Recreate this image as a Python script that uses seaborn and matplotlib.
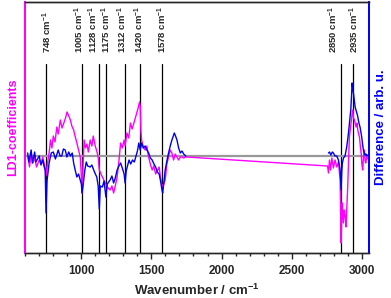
import matplotlib
matplotlib.use("Agg")
import matplotlib.pyplot as plt
import seaborn as sns
import pandas as pd
from matplotlib.ticker import MultipleLocator

# LD1 coefficients (magenta); straight bridge across the silent region
ld1_wn = [620, 630, 642, 655, 667, 680, 700, 712, 725, 732, 740, 748, 758, 770,
          780, 790, 800, 812, 825, 835, 850, 862, 875, 887, 898, 910, 922, 932,
          945, 955, 968, 980, 992, 1000, 1005, 1012, 1020, 1030, 1040, 1050,
          1063, 1075, 1085, 1099, 1110, 1120, 1128, 1140, 1160, 1175, 1185,
          1205, 1218, 1230, 1242, 1255, 1268, 1280, 1292, 1305, 1312, 1325,
          1338, 1350, 1362, 1375, 1385, 1395, 1405, 1415, 1420, 1425, 1430,
          1440, 1455, 1467, 1480, 1492, 1505, 1517, 1530, 1545, 1555, 1565,
          1578, 1588, 1598, 1610, 1622, 1634, 1646, 1658, 1670, 1682, 1694,
          1706, 1718, 1730, 1742, 1750,
          2756, 2763, 2770, 2778, 2787, 2798, 2810, 2822, 2834, 2846, 2853,
          2858, 2862, 2869, 2876, 2882, 2888, 2894, 2900, 2906, 2912, 2918,
          2924, 2930, 2936, 2942, 2948, 2954, 2960, 2966, 2972, 2978, 2984,
          2990, 2996, 3001, 3007, 3013, 3019, 3024, 3029, 3036, 3045]
ld1 = [-1, -11, 3, -7, -1, -11, -4, -8, -1, -6, -11, -20, -8, 3,
       16, 8, 20, 14, 29, 22, 36, 28, 33, 38, 44, 40, 36, 30,
       26, 20, 13, 6, -1, -20, -37, -10, 16, 8, 12, 4,
       16, 10, 20, 10, 5, -1, -14, -18, -24, -28, -31,
       -34, -30, -37, -30, -21, -5, 13, 8, 16, 10, 23,
       18, 33, 27, 33, 38, 43, 48, 54, 50, 25, 16,
       10, 6, 10, -1, -8, -14, -10, -18, -14, -11, -22,
       -31, -28, -24, -8, -1, 6, 3, -4, 2, -1, -4,
       -1, -1, -2, -1, -1,
       -10, -17, -4, -14, -2, -12, -4, -11, -6, -24, -87,
       -60, -47, -67, -54, -60, -71, -50, -31, -5, 19, 26,
       33, 40, 46, 38, 36, 32, 29, 33, 26, 22, 19,
       10, 3, -8, -14, 0, 6, -5, -7, -1, -3]

# difference spectrum (blue), fingerprint region
diff_lo_wn = [617, 625, 642, 650, 667, 675, 700, 712, 725, 735, 742, 748, 755,
              770, 785, 800, 815, 835, 848, 860, 872, 885, 897, 910, 922, 935,
              945, 956, 968, 980, 992, 1000, 1005, 1012, 1025, 1035, 1045,
              1063, 1075, 1088, 1100, 1110, 1120, 1128, 1135, 1150, 1162, 1175,
              1185, 1205, 1218, 1230, 1242, 1255, 1268, 1280, 1292, 1305, 1312,
              1320, 1340, 1352, 1365, 1378, 1390, 1400, 1410, 1420, 1430, 1442,
              1455, 1467, 1480, 1492, 1505, 1518, 1530, 1542, 1555, 1565, 1575,
              1580, 1590, 1598, 1610, 1622, 1634, 1646, 1656, 1663, 1672, 1682,
              1694, 1706, 1718, 1730, 1745]
diff_lo = [3, -6, 6, -7, 4, -6, 0, -9, -4, -11, -14, -57, -25,
           -7, 3, 4, -3, 6, 0, 0, 7, 6, -1, 4, 0, 3,
           -7, -14, -21, -18, -24, -28, -37, -30, -14, -6, -10,
           -11, -9, -14, -18, -21, -30, -53, -30, -31, -25, -41,
           -28, -24, -20, -27, -22, -14, -10, -7, -12, -18, -27,
           -15, -4, -8, -4, -6, 0, 5, 13, 6, 13, 8,
           10, 6, 3, -2, -4, -8, -11, -16, -18, -25, -34,
           -37, -25, -14, -5, 3, 10, 16, 20, 23, 20, 16,
           8, 3, 5, 2, 0]

# difference spectrum (blue), CH-stretch region
diff_hi_wn = [2763, 2770, 2780, 2790, 2798, 2810, 2822, 2834, 2846, 2853, 2858,
              2862, 2870, 2881, 2893, 2903, 2910, 2916, 2922, 2928, 2931, 2936,
              2941, 2947, 2953, 2959, 2965, 2971, 2976, 2982, 2988, 2994, 3000,
              3006, 3012, 3018, 3024, 3030, 3036, 3045]
diff_hi = [3, 4, 1, 4, 3, 0, 0, -4, -14, -34, -15,
           -7, -2, 0, 9, 20, 29, 38, 46, 62, 73, 68,
           63, 56, 49, 46, 43, 40, 36, 32, 29, 24, 19,
           12, 6, 3, 1, 2, 0, 1]

band_pos = [748, 1005, 1128, 1175, 1312, 1420, 1578, 2850, 2935]
band_labels = [f"{p} cm$^{{-1}}$" for p in band_pos]

sns.set_style("ticks")
plt.rcParams['font.family'] = ['Liberation Sans', 'DejaVu Sans']
plt.rcParams['font.weight'] = 'bold'
plt.rcParams['mathtext.default'] = 'regular'

fig = plt.figure(figsize=(3.91, 2.98), dpi=100)
ax = fig.add_axes([25 / 391, 45 / 298, 344 / 391, 251 / 298])
ax2 = ax.twinx()

ylim = (-97, 154)
xlim = (598, 3052)

# small horizontal nudges so the crowded labels do not collide
label_nudge = {748: 7, 1005: -20, 1128: -44, 1175: 6, 1312: -18,
               1420: -7, 1578: 0, 2850: -50, 2935: 10}

for p in band_pos:
    ax.plot([p, p], [ylim[0], 92], color='black', lw=0.9, zorder=1)
for p, lab in zip(band_pos, band_labels):
    ax.text(p + label_nudge[p], 103, lab, rotation=90, ha='center', va='bottom',
            fontsize=6.8, fontweight='bold')

ax.axhline(0, color='#999999', lw=1.6, zorder=2)

sns.lineplot(data=pd.DataFrame({'wn': ld1_wn, 'v': ld1}), x='wn', y='v',
             ax=ax, color='#ff00ff', lw=1.0, sort=False, zorder=3)
sns.lineplot(data=pd.DataFrame({'wn': diff_lo_wn, 'v': diff_lo}), x='wn', y='v',
             ax=ax2, color='#0000ee', lw=1.0, sort=False, zorder=4)
sns.lineplot(data=pd.DataFrame({'wn': diff_hi_wn, 'v': diff_hi}), x='wn', y='v',
             ax=ax2, color='#0000ee', lw=1.0, sort=False, zorder=4)

for a in (ax, ax2):
    a.set_xlim(*xlim)
    a.set_ylim(*ylim)
    a.set_yticks([])

ax.xaxis.set_major_locator(MultipleLocator(500))
ax.xaxis.set_minor_locator(MultipleLocator(100))
ax.tick_params(axis='x', which='major', length=4, width=1, labelsize=8.5, pad=5)
ax.tick_params(axis='x', which='minor', length=2, width=1)
for t in ax.get_xticklabels():
    t.set_fontweight('bold')

for a in (ax, ax2):
    a.spines['left'].set_color('#ff00ff')
    a.spines['left'].set_linewidth(1.3)
    a.spines['right'].set_color('#0000ff')
    a.spines['right'].set_linewidth(1.3)
    a.spines['top'].set_visible(True)
    a.spines['top'].set_linewidth(1.0)
    a.spines['bottom'].set_linewidth(1.0)

ax.set_xlabel("Wavenumber / cm$^{-1}$", fontsize=9.5, fontweight='bold', labelpad=4)
ax.set_ylabel("LD1-coefficients", color='#ff00ff', fontsize=9,
              fontweight='bold', labelpad=4)
ax2.set_ylabel("Difference / arb. u.", color='#0000ff', fontsize=9.5,
               fontweight='bold', labelpad=4)

fig.savefig("out.png", dpi=100)
